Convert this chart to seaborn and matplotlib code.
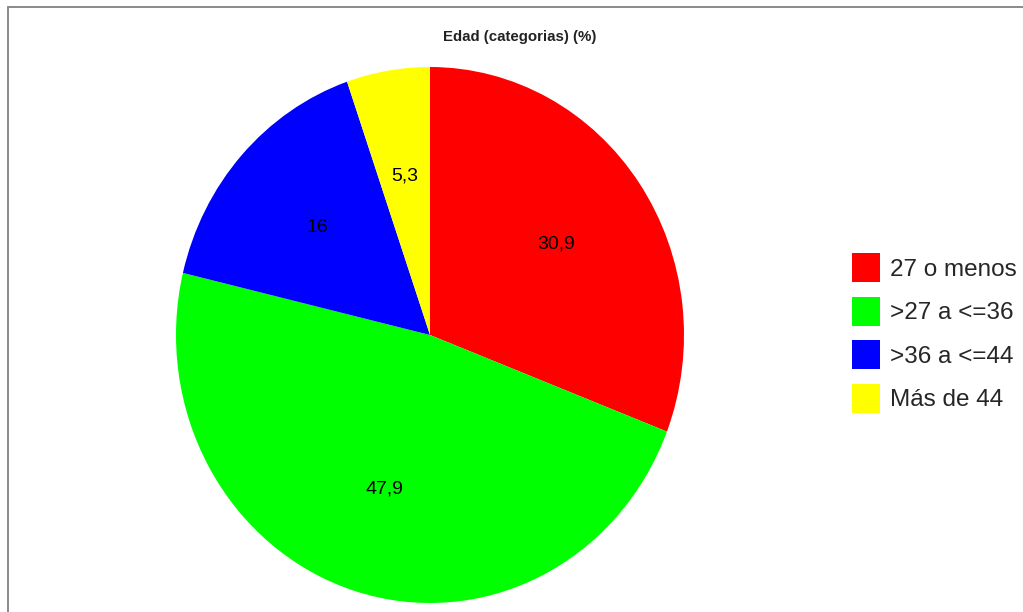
import matplotlib
matplotlib.use("Agg")
import matplotlib.pyplot as plt
from matplotlib.patches import Patch
from matplotlib.lines import Line2D
import seaborn as sns

# Age group shares (%)
categories = ["27 o menos", ">27 a <=36", ">36 a <=44", "Más de 44"]
shares = [30.9, 47.9, 16.0, 5.3]
share_labels = ["30,9", "47,9", "16", "5,3"]
title = "Edad (categorias) (%)"

sns.set_theme(style="white")
plt.rcParams["font.family"] = ["Liberation Sans", "DejaVu Sans"]
colors = sns.color_palette(["#FF0000", "#00FF00", "#0000FF", "#FFFF00"])

W, H = 1023, 612
fig = plt.figure(figsize=(W / 100, H / 100), dpi=100)
fig.patch.set_facecolor("white")

# Pie axes, slightly taller than wide
cx, cy, rx, ry = 430, 277, 254, 268
ax = fig.add_axes([(cx - rx) / W, (cy - ry) / H, 2 * rx / W, 2 * ry / H])
wedges, texts = ax.pie(
    shares,
    labels=share_labels,
    colors=colors,
    startangle=90,
    counterclock=False,
    labeldistance=0.6,
    radius=1.0,
    wedgeprops=dict(linewidth=0, antialiased=True),
    textprops=dict(fontsize=14, color="black", ha="center", va="center"),
)
for w in wedges:
    w.set_clip_on(False)
ax.set_aspect("auto")
ax.set_xlim(-1, 1)
ax.set_ylim(-1, 1)
ax.axis("off")

fig.text(520 / W, 1 - 37 / H, title, ha="center", va="center",
         fontsize=10.8, fontweight="bold", color="#222222")

handles = [Patch(facecolor=c, edgecolor="none") for c in colors]
fig.legend(
    handles, categories,
    loc="center left",
    bbox_to_anchor=(852 / W, 1 - 333 / H),
    frameon=False,
    fontsize=17.5,
    handlelength=1.17,
    handleheight=1.45,
    handletextpad=0.4,
    labelspacing=0.6,
    borderpad=0,
    borderaxespad=0,
)

# Panel frame along the top and left edges
frame_kw = dict(color="#8a8a8a", linewidth=1.4, transform=fig.transFigure)
fig.add_artist(Line2D([8 / W, 1], [1 - 7 / H, 1 - 7 / H], **frame_kw))
fig.add_artist(Line2D([8 / W, 8 / W], [0, 1 - 7 / H], **frame_kw))

fig.savefig("out.png", dpi=100, facecolor="white")
